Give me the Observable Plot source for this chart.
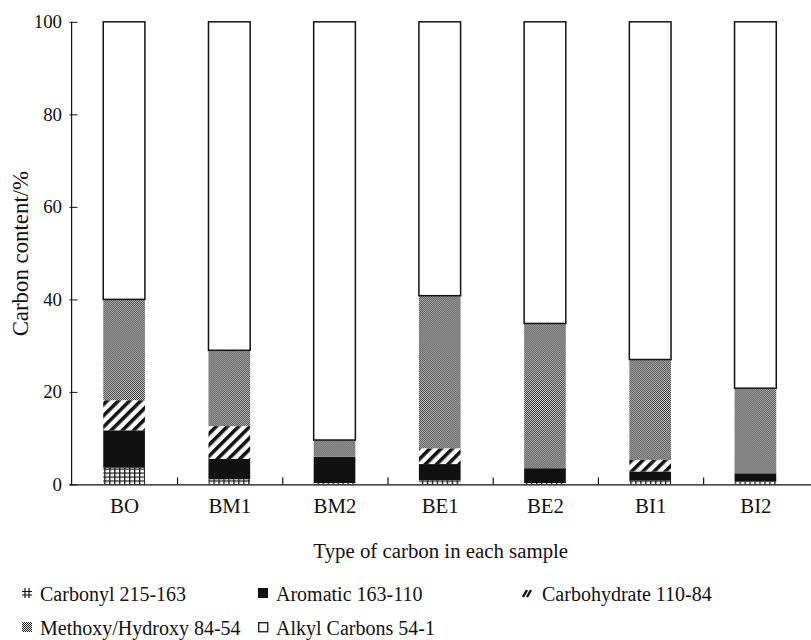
<!DOCTYPE html>
<html>
<head>
<meta charset="utf-8">
<script src="https://cdn.jsdelivr.net/npm/d3@7"></script>
<script src="https://cdn.jsdelivr.net/npm/@observablehq/plot@0.6"></script>
<style>
  body { margin: 0; background: #fff; font-family: "Liberation Serif", "Times New Roman", serif; color: #111; }
  #wrap { position: relative; width: 811px; height: 640px; overflow: hidden; }
  #chart { position: absolute; left: 0; top: 0; }
  .item { position: absolute; display: flex; align-items: center; white-space: nowrap; font-size: 20px; line-height: 1; }
  .item svg { position: absolute; }
</style>
</head>
<body>
<div id="wrap">
  <div id="chart"></div>
  <div id="legend"></div>
</div>
<script>
// Samples and carbon fractions (% of total carbon) per chemical-shift region
const samples = ["BO", "BM1", "BM2", "BE1", "BE2", "BI1", "BI2"];
const carbonyl     = [3.6, 1.1, 0.3, 0.9, 0.3, 0.8, 0.6];
const aromatic     = [8.1, 4.4, 5.7, 3.5, 3.2, 2.0, 1.8];
const carbohydrate = [6.5, 7.1, 0.0, 3.4, 0.0, 2.5, 0.0];
const methoxy      = [21.8, 16.4, 3.6, 33.0, 31.3, 21.7, 18.4];
const alkyl        = [60.0, 71.0, 90.4, 59.2, 65.2, 73.0, 79.2];
const yTicks = [0, 20, 40, 60, 80, 100];

const seriesNames = ["Carbonyl 215-163", "Aromatic 163-110", "Carbohydrate 110-84", "Methoxy/Hydroxy 84-54", "Alkyl Carbons 54-1"];
const seriesValues = [carbonyl, aromatic, carbohydrate, methoxy, alkyl];
const seriesFills = ["url(#pat-carbonyl)", "#111", "url(#pat-carbohydrate)", "url(#pat-methoxy)", "#fff"];

// Long-format table: series order gives the stacking order (bottom to top)
const rows = seriesNames.flatMap((type, k) =>
  samples.map((sample, i) => ({sample, type, value: seriesValues[k][i]}))
).filter(d => d.value > 0);
const alkylRows = samples.map((sample, i) => ({sample, value: alkyl[i]}));

const W = 817, ML = 70, MR = 0;
const step = (W - ML - MR) / samples.length;

const plot = Plot.plot({
  width: W,
  height: 580,
  marginTop: 22,
  marginBottom: 92,
  marginLeft: ML,
  marginRight: MR,
  style: {fontFamily: "Liberation Serif, Times New Roman, serif", fontSize: "19px", color: "#111", background: "#fff"},
  x: {domain: samples, paddingInner: 0.6, paddingOuter: 0.3},
  y: {domain: [0, 100]},
  color: {type: "ordinal", domain: seriesNames, range: seriesFills},
  marks: [
    Plot.barY(rows, {x: "sample", y: "value", fill: "type"}),
    // outline of the top (alkyl) segment
    Plot.barY(alkylRows, {x: "sample", y1: d => 100 - d.value, y2: 100, fill: "none", stroke: "#111", strokeWidth: 1.5}),
    // axis lines
    Plot.ruleY([0], {stroke: "#111", strokeWidth: 1.2}),
    Plot.ruleX([samples[0]], {dx: -step / 2, y1: 0, y2: 100, stroke: "#111", strokeWidth: 1.2}),
    // inward ticks between sample groups
    Plot.ruleX(samples.slice(0, -1), {dx: step / 2, y1: 0, y2: 1.5, stroke: "#111", strokeWidth: 1.2}),
    Plot.axisY(yTicks, {tickSize: -8, tickPadding: 16, label: null, fontSize: 19}),
    Plot.text(["Carbon content/%"], {frameAnchor: "left", textAnchor: "middle", dx: -50, rotate: -90, fontSize: 23}),
    Plot.axisX({tickSize: 0, tickPadding: 13, fontSize: 21, label: "Type of carbon in each sample", labelAnchor: "center", labelOffset: 74, labelArrow: "none"})
  ]
});

d3.select(plot).insert("defs", ":first-child").html(`
  <pattern id="pat-carbonyl" width="5" height="4" patternUnits="userSpaceOnUse">
    <rect width="5" height="4" fill="#fff"/>
    <rect width="1.3" height="4" fill="#111"/>
    <rect width="5" height="1.2" fill="#111"/>
  </pattern>
  <pattern id="pat-carbohydrate" width="8" height="8" patternUnits="userSpaceOnUse" patternTransform="rotate(45)">
    <rect width="8" height="8" fill="#fff"/>
    <rect width="3.6" height="8" fill="#111"/>
  </pattern>
  <pattern id="pat-methoxy" width="2" height="2" patternUnits="userSpaceOnUse">
    <rect width="2" height="2" fill="#e4e4e4"/>
    <rect width="1" height="1" fill="#222"/>
    <rect x="1" y="1" width="1" height="1" fill="#222"/>
  </pattern>
`);
// axis label font size
d3.select(plot).selectAll("g[aria-label='x-axis label'] text").attr("font-size", 21);
document.getElementById("chart").appendChild(plot);

// Legend below the chart
const icons = [
  `<path d="M3,0V10M7,0V10M0,3.5H10M0,7H10" stroke="#111" stroke-width="1.2" fill="none"/>`,
  `<rect x="0" y="0" width="10" height="10" fill="#111"/>`,
  `<path d="M1,9L5,2M5,9L9,2" stroke="#111" stroke-width="2.4" fill="none"/>`,
  `<rect x="0" y="0" width="10" height="10" fill="url(#pat-methoxy)"/>`,
  `<rect x="0.75" y="0.75" width="9" height="9" fill="#fff" stroke="#111" stroke-width="1.3"/>`
];
const legendPos = [
  {x: 22, y: 594}, {x: 258, y: 594}, {x: 522, y: 594},
  {x: 22, y: 628}, {x: 258, y: 628}
];
const legend = document.getElementById("legend");
seriesNames.forEach((name, k) => {
  const p = legendPos[k];
  const item = document.createElement("div");
  item.className = "item";
  item.style.left = p.x + "px";
  item.style.top = (p.y - 10) + "px";
  item.style.height = "20px";
  item.innerHTML = `<svg width="11" height="11" viewBox="0 0 11 11" style="left:0;top:4px">${icons[k]}</svg>` +
    `<span style="margin-left:${k === 2 ? 20 : 18}px">${name}</span>`;
  legend.appendChild(item);
});
</script>
</body>
</html>
